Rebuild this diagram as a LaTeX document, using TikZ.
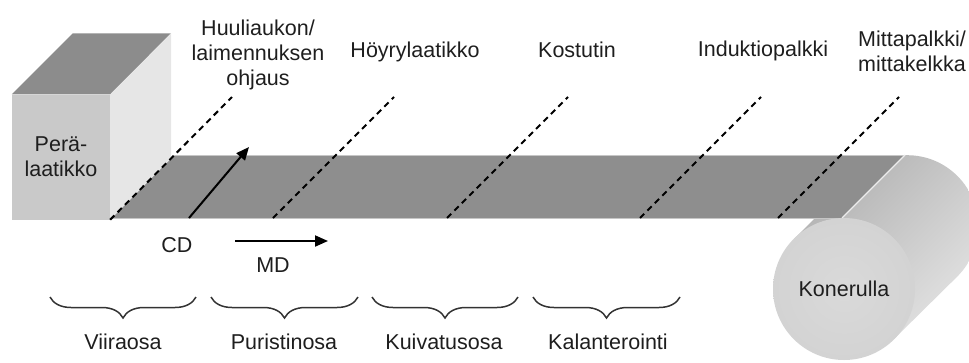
\documentclass[tikz,border=0pt]{standalone}
\usepackage{fontspec}
\setmainfont{Liberation Sans}
\usetikzlibrary{arrows.meta,decorations.pathreplacing}

\definecolor{webgray}{RGB}{142,142,142}
\definecolor{boxfront}{RGB}{201,201,201}
\definecolor{boxside}{RGB}{230,230,230}
\definecolor{boxtop}{RGB}{140,140,140}
\definecolor{rollface}{RGB}{211,211,211}
\definecolor{inktext}{RGB}{30,30,30}

\begin{document}
\begin{tikzpicture}[x=1pt,y=-1pt,
  every node/.style={font=\fontsize{21.5}{25}\selectfont, text=inktext, inner sep=0pt},
  guide/.style={dash pattern=on 6pt off 4.5pt, line width=2pt},
  dirarrow/.style={line width=2pt, -{Triangle[length=13pt,width=11pt]}},
  section/.style={decorate, decoration={brace, mirror, amplitude=21pt}, line width=1.5pt, draw=black!80},
]
\useasboundingbox (0,0) rectangle (969,362);
\clip (0,0) rectangle (969,362);

% machine roll: body
\shade[shading=axis, top color=gray!62, middle color=gray!12, bottom color=gray!22, shading angle=45]
  (857,176) arc[start angle=225, end angle=405, radius=71] -- (894,339) -- (794,239) -- cycle;

% paper web
\fill[webgray] (173,155) -- (905,155) -- (842,218) -- (110,218) -- cycle;
\draw[gray!45, line width=1pt] (173,155) -- (905,155);
\draw[gray!45, line width=1pt] (110,218) -- (842,218);
\draw[white!85!gray, line width=1.2pt] (905,155) -- (842,218);

% machine roll: end face
\node[circle, minimum size=142pt, shading=radial, inner color=rollface!85!white, outer color=rollface] (roll) at (844,289) {Konerulla};

% headbox
\node[fill=boxfront, minimum width=98pt, minimum height=125pt, align=center] (box) at (61,157) {Perä-\\laatikko};
\fill[boxtop] (box.north west) -- ++(61,-61) -- ++(98,0) -- (box.north east) -- cycle;
\fill[boxside] (box.north east) -- ++(61,-61) -- ++(0,125) -- (box.south east) -- cycle;

% measurement / actuator positions
\coordinate (g1b) at (232,97);
\coordinate (g2a) at (273,218); \coordinate (g2b) at (394,97);
\coordinate (g3a) at (447,218); \coordinate (g3b) at (568,97);
\coordinate (g4a) at (640,218); \coordinate (g4b) at (761,97);
\coordinate (g5a) at (778,218); \coordinate (g5b) at (899,97);
\draw[guide] (box.south east) -- (g1b);
\draw[guide] (g2a) -- (g2b);
\draw[guide] (g3a) -- (g3b);
\draw[guide] (g4a) -- (g4b);
\draw[guide] (g5a) -- (g5b);

% direction arrows
\coordinate (cd0) at (189,218); \coordinate (cd1) at (249,147);
\coordinate (md0) at (235,241); \coordinate (md1) at (328,241);
\draw[dirarrow] (cd0) -- (cd1);
\draw[dirarrow] (md0) -- (md1);
\node[anchor=base] (cd) at (177,252) {CD};
\node[anchor=base] (md) at (273,272) {MD};

% labels of positions
\node[align=center] (lip) at (258,55) {Huuliaukon/\\laimennuksen\\ohjaus};
\node[anchor=base] (steam) at (415,57) {Höyrylaatikko};
\node[anchor=base] (moist) at (577,57) {Kostutin};
\node[anchor=base] (induct) at (763,56) {Induktiopalkki};
\node[align=center] (scan) at (912,51) {Mittapalkki/\\mittakelkka};

% machine sections
\coordinate (s1a) at (50,297);  \coordinate (s1b) at (196,297);
\coordinate (s2a) at (211,297); \coordinate (s2b) at (358,297);
\coordinate (s3a) at (372,297); \coordinate (s3b) at (518,297);
\coordinate (s4a) at (533,297); \coordinate (s4b) at (680,297);
\draw[section] (s1a) -- (s1b);
\draw[section] (s2a) -- (s2b);
\draw[section] (s3a) -- (s3b);
\draw[section] (s4a) -- (s4b);
\node[anchor=base] (wire) at (123,349) {Viiraosa};
\node[anchor=base] (press) at (284,349) {Puristinosa};
\node[anchor=base] (dry) at (444,349) {Kuivatusosa};
\node[anchor=base] (cal) at (608,349) {Kalanterointi};
\end{tikzpicture}
\end{document}
